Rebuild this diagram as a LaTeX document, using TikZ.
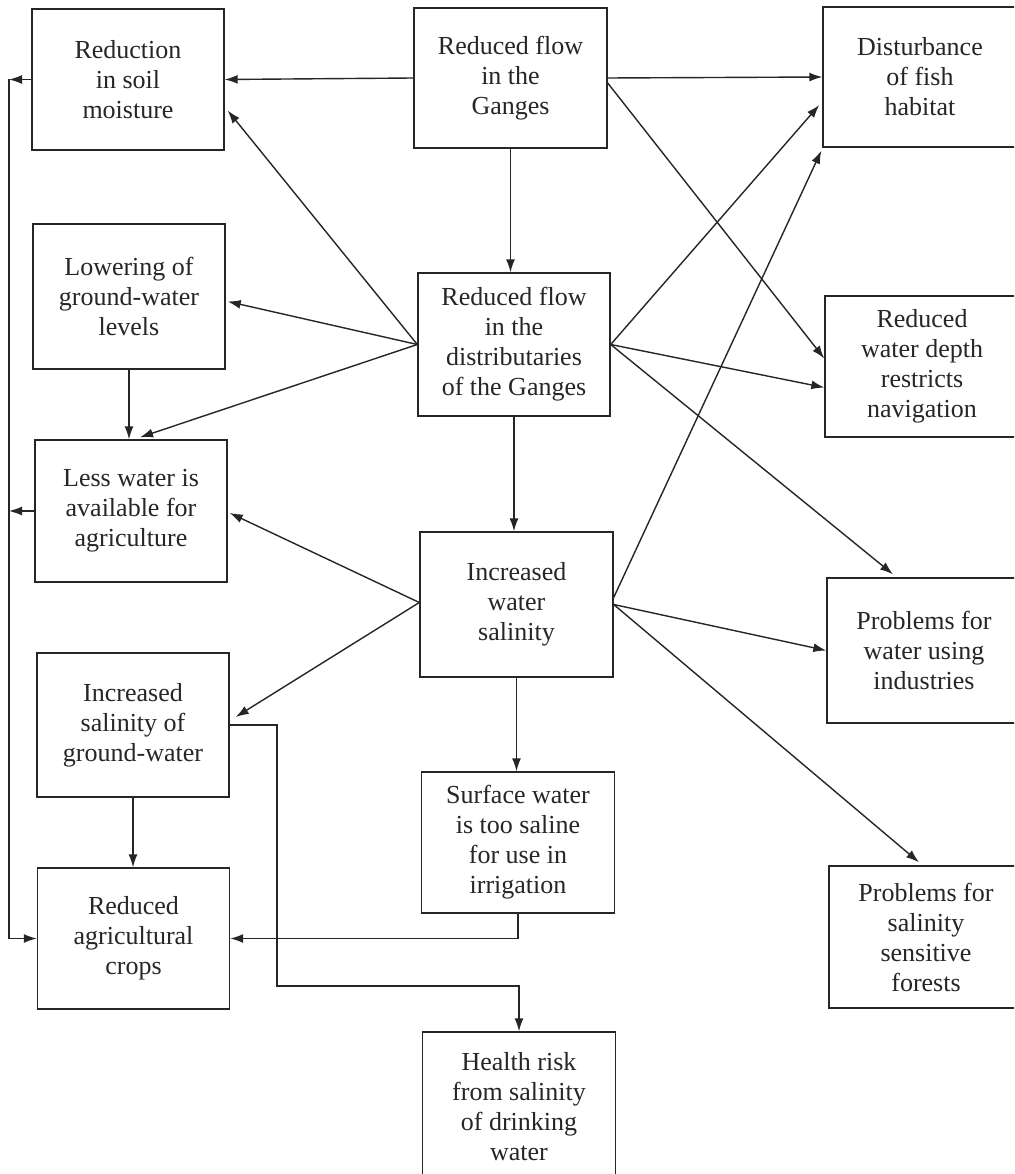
\documentclass[tikz,border=0pt]{standalone}
\usepackage{fontspec}
\setmainfont{Liberation Serif}
\usetikzlibrary{arrows.meta,calc}
\begin{document}
\begin{tikzpicture}[x=1pt,y=-1pt,
  box/.style={draw=black!85, line width=1.4pt, align=center, inner sep=0pt,
    text=black!85, font=\fontsize{26}{30}\selectfont, anchor=center},
  lbox/.style={box, minimum width=192pt},
  rbox/.style={box, minimum width=194pt},
  arr/.style={draw=black!85, line width=1.4pt, -{Latex[length=13pt,width=9pt]}},
  ln/.style={draw=black!85, line width=1.4pt}]
\clip (0,0) rectangle (1014,1174);
\fill[white] (0,0) rectangle (1014,1174);
% left column
\node[lbox, minimum height=141pt] (red) at (128,79.5) {Reduction\\in soil\\moisture};
\node[lbox, minimum height=145pt] (low) at (129,296.5) {Lowering of\\ground-water\\levels};
\node[lbox, minimum height=142pt] (less) at (131,511) {Less water is\\available for\\agriculture};
\node[lbox, minimum height=144pt] (gw) at (133,725) {Increased\\salinity of\\ground-water};
\node[lbox, minimum height=141pt] (crops) at (133.5,938.5) {Reduced\\agricultural\\crops};
% middle column
\node[lbox, minimum width=193pt, minimum height=140pt] (gan) at (510.5,78) {Reduced flow\\in the\\Ganges};
\node[lbox, minimum height=143pt] (dist) at (514,344.5) {Reduced flow\\in the\\distributaries\\of the Ganges};
\node[lbox, minimum width=193pt, minimum height=145pt] (sal) at (516.5,604.5) {Increased\\water\\salinity};
\node[lbox, minimum width=193pt, minimum height=141pt] (surf) at (518,842.5) {Surface water\\is too saline\\for use in\\irrigation};
\node[lbox, minimum width=193pt, minimum height=150pt] (health) at (519,1107) {Health risk\\from salinity\\of drinking\\water};
% right column
\node[rbox, minimum height=140pt] (fish) at (920,77) {Disturbance\\of fish\\habitat};
\node[rbox, minimum height=141pt] (nav) at (922,366.5) {Reduced\\water depth\\restricts\\navigation};
\node[rbox, minimum height=145pt] (ind) at (924,650.5) {Problems for\\water using\\industries};
\node[rbox, minimum height=142pt] (for) at (926,937) {Problems for\\salinity\\sensitive\\forests};
\coordinate (rail) at (9,80);
\coordinate (k1) at (277,986);
% from Ganges
\draw[arr] (gan.west) -- (red.east);
\draw[arr] (gan.east) -- (fish.west);
\draw[arr] ($(gan.east)+(0,5)$) -- ($(nav.west)+(0,-8)$);
\draw[arr] (gan.south) -- (gan.south |- dist.north);
% from distributaries
\draw[arr] (dist.west) -- ($(red.east)+(3,31)$);
\draw[arr] (dist.west) -- ($(low.east)+(2,5)$);
\draw[arr] (dist.west) -- ($(less.north)+(9,-2)$);
\draw[arr] (dist.east) -- ($(fish.west)+(-3,28)$);
\draw[arr] (dist.east) -- ($(nav.west)+(0,21)$);
\draw[arr] (dist.east) -- ($(ind.north)+(-31,-3)$);
\draw[arr] (dist.south) -- (dist.south |- sal.north);
\draw[arr] (low.south) -- (low.south |- less.north);
% from salinity
\draw[arr] ($(sal.west)+(0,-2)$) -- ($(less.east)+(2,2)$);
\draw[arr] ($(sal.west)+(0,-2)$) -- ($(gw.east)+(6,-8)$);
\draw[arr] ($(sal.east)+(0,-7)$) -- ($(fish.south west)+(-1,3)$);
\draw[arr] (sal.east) -- (ind.west);
\draw[arr] (sal.east) -- ($(for.north)+(-7,-3)$);
\draw[arr] (sal.south) -- (sal.south |- surf.north);
% lower part
\draw[arr] (surf.south) |- (crops.east);
\draw[arr] (gw.south) -- (gw.south |- crops.north);
\draw[arr] (gw.east) -| (k1) -| (health.north);
% left rail
\draw[arr] (red.west) -- (red.west -| rail);
\draw[arr] (less.west) -- (less.west -| rail);
\draw[arr] (red.west -| rail) |- (crops.west);
\end{tikzpicture}
\end{document}
